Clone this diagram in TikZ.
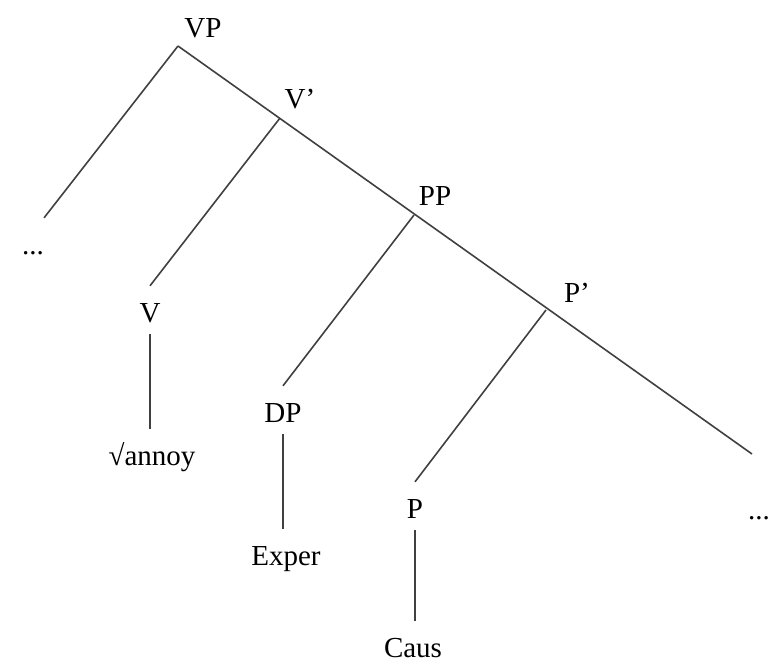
\documentclass[tikz,border=0pt]{standalone}
\usepackage{fontspec}
\setmainfont{Liberation Serif}
\usetikzlibrary{positioning}

\begin{document}
\begin{tikzpicture}[x=1pt,y=-1pt,
  top/.style={font=\fontsize{29}{34}\selectfont,inner sep=0pt,anchor=base},
  lab/.style={top,text height=36pt,text depth=12pt},
  br/.style={line width=1.6pt,draw=black!75}]
\useasboundingbox (0,0) rectangle (771,664);
% branching points of the spine
\coordinate (vp) at (178,46);
\coordinate (vbar) at (280,118);
\coordinate (pp) at (414,215);
\coordinate (pbar) at (546,310);
\coordinate (rend) at (752,454);
\node[top] (lvp) at (203,37) {VP};
\node[top] (lvbar) at (300,108) {V’};
\node[top] (lpp) at (435,205) {PP};
\node[top] (lpbar) at (577,302) {P’};
\node[lab] (dl) at (33,254) {...};
\node[lab] (dr) at (759,519) {...};
\node[lab] (v) at (150,322) {V};
\node[lab] (root) at (152,465) {√annoy};
\node[lab] (dp) at (283,422) {DP};
\node[lab] (exper) at (286,565) {Exper};
\node[lab] (p) at (415,518) {P};
\node[lab] (caus) at (413,657) {Caus};
\draw[br] (vp) -- (rend);
\foreach \u/\v in {vp/dl.north east,vbar/v.north,pp/dp.north,pbar/p.north} \draw[br] (\u) -- (\v);
\foreach \u/\v in {v/root,dp/exper,p/caus} \draw[br] (\u.south) -- (\u.south |- \v.north);
\end{tikzpicture}
\end{document}
